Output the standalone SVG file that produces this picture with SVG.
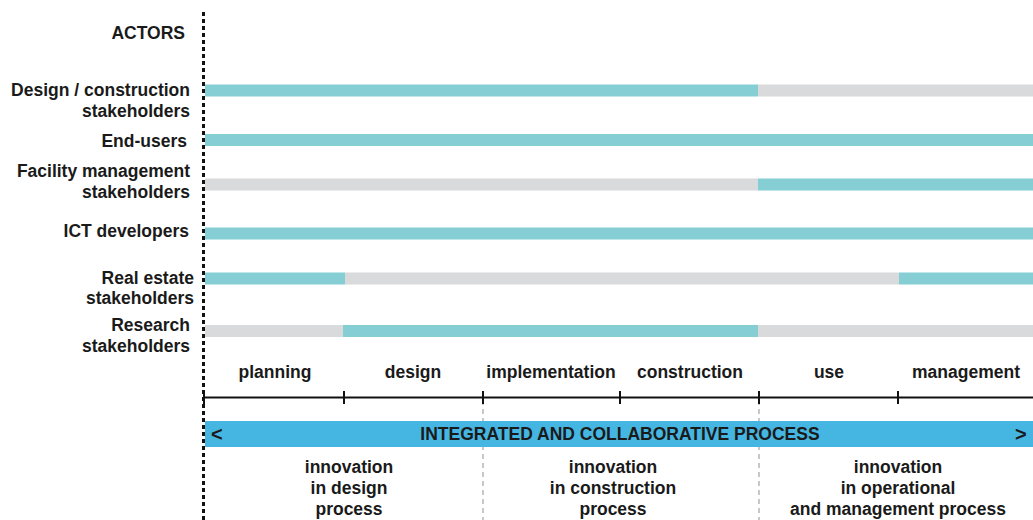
<svg xmlns="http://www.w3.org/2000/svg" width="1033" height="520" viewBox="0 0 1033 520">
<style>
text{font-family:"Liberation Sans",Arial,sans-serif;font-weight:bold;font-size:17.5px;fill:#1a1a1a}
.lbl{text-anchor:end}
.mid{text-anchor:middle}
.arr{font-size:20px}
.t{fill:#84ced4}
.g{fill:#d9dadb}
.tick{stroke:#111;stroke-width:2}
</style>
<rect width="1033" height="520" fill="#fff"/>
<g id="actors-labels">
<text class="lbl" x="185" y="39">ACTORS</text>
</g>
<g id="row-design-construction">
<text class="lbl" x="190" y="96">Design / construction</text>
<text class="lbl" x="190" y="117">stakeholders</text>
<rect class="t" x="205" y="84.5" width="553" height="12"/>
<rect class="g" x="758" y="84.5" width="275" height="12"/>
</g>
<g id="row-end-users">
<text class="lbl" x="187" y="147">End-users</text>
<rect class="t" x="205" y="134" width="828" height="12"/>
</g>
<g id="row-facility">
<text class="lbl" x="190" y="177">Facility management</text>
<text class="lbl" x="190" y="198">stakeholders</text>
<rect class="g" x="205" y="178.5" width="553" height="12"/>
<rect class="t" x="758" y="178.5" width="275" height="12"/>
</g>
<g id="row-ict">
<text class="lbl" x="189" y="237">ICT developers</text>
<rect class="t" x="205" y="227.5" width="828" height="12"/>
</g>
<g id="row-real-estate">
<text class="lbl" x="194" y="284">Real estate</text>
<text class="lbl" x="194" y="304">stakeholders</text>
<rect class="t" x="205" y="272.5" width="140" height="12"/>
<rect class="g" x="345" y="272.5" width="554" height="12"/>
<rect class="t" x="899" y="272.5" width="134" height="12"/>
</g>
<g id="row-research">
<text class="lbl" x="190" y="331">Research</text>
<text class="lbl" x="190" y="352">stakeholders</text>
<rect class="g" x="205" y="325" width="138" height="12"/>
<rect class="t" x="343" y="325" width="415" height="12"/>
<rect class="g" x="758" y="325" width="275" height="12"/>
</g>
<g id="phases">
<text class="mid" x="275" y="378">planning</text>
<text class="mid" x="413" y="378">design</text>
<text class="mid" x="551" y="378">implementation</text>
<text class="mid" x="690" y="378">construction</text>
<text class="mid" x="829" y="378">use</text>
<text class="mid" x="966" y="378">management</text>
</g>
<g id="connectors">
<line x1="203.5" y1="12" x2="203.5" y2="520" stroke="#111" stroke-width="3" stroke-dasharray="4 3"/>
<line x1="483" y1="400" x2="483" y2="520" stroke="#c8c8c8" stroke-width="2" stroke-dasharray="5 4"/>
<line x1="759" y1="400" x2="759" y2="520" stroke="#c8c8c8" stroke-width="2" stroke-dasharray="5 4"/>
<line x1="204" y1="397.5" x2="1033" y2="397.5" stroke="#111" stroke-width="2.2"/>
<line class="tick" x1="204" y1="391" x2="204" y2="404"/>
<line class="tick" x1="344" y1="391" x2="344" y2="404"/>
<line class="tick" x1="483" y1="391" x2="483" y2="404"/>
<line class="tick" x1="620" y1="391" x2="620" y2="404"/>
<line class="tick" x1="759" y1="391" x2="759" y2="404"/>
<line class="tick" x1="898" y1="391" x2="898" y2="404"/>
</g>
<g id="process-band">
<rect x="205" y="421" width="828" height="26" fill="#45b6e2"/>
<text class="arr" x="211" y="441">&lt;</text>
<text class="mid" x="620" y="440">INTEGRATED AND COLLABORATIVE PROCESS</text>
<text class="arr" x="1015" y="441">&gt;</text>
</g>
<g id="innovation-design">
<text class="mid" x="349" y="473">innovation</text>
<text class="mid" x="349" y="494">in design</text>
<text class="mid" x="349" y="515">process</text>
</g>
<g id="innovation-construction">
<text class="mid" x="613" y="473">innovation</text>
<text class="mid" x="613" y="494">in construction</text>
<text class="mid" x="613" y="515">process</text>
</g>
<g id="innovation-operational">
<text class="mid" x="898" y="473">innovation</text>
<text class="mid" x="898" y="494">in operational</text>
<text class="mid" x="898" y="515">and management process</text>
</g>
</svg>
